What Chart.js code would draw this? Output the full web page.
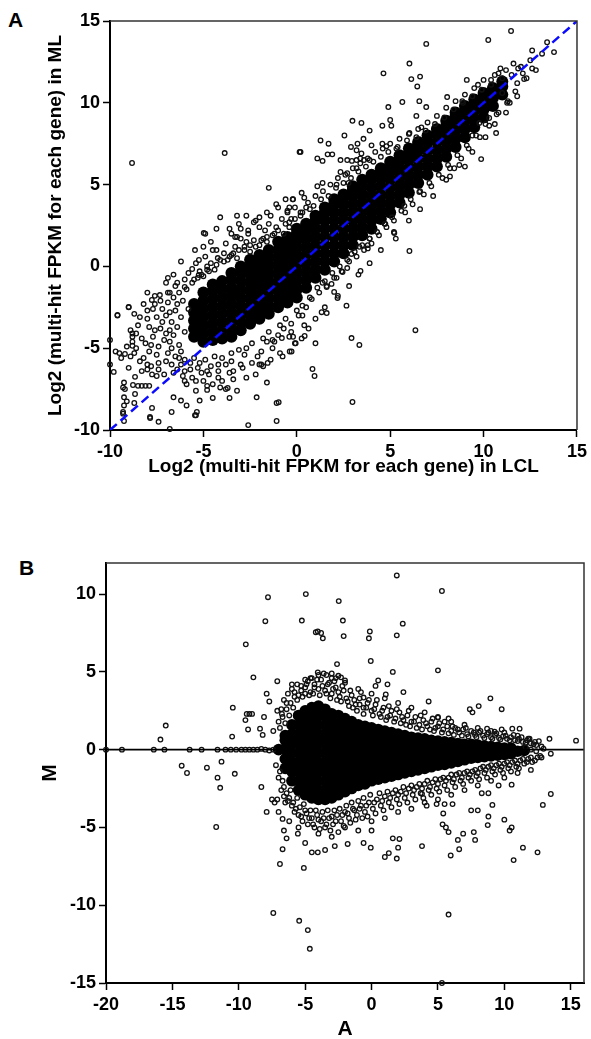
<!DOCTYPE html>
<html>
<head>
<meta charset="utf-8">
<script src="https://cdn.jsdelivr.net/npm/chart.js@4.4.1/dist/chart.umd.min.js"></script>
<style>
  html, body { margin: 0; padding: 0; background: #fff; }
  body { width: 591px; height: 1039px; position: relative; overflow: hidden; font-family: 'Liberation Sans', Arial, Helvetica, sans-serif; }
  canvas { position: absolute; left: 0; }
  .panel { position: absolute; font-weight: bold; font-size: 21px; line-height: 21px; color: #000; }
</style>
</head>
<body>
<div class="panel" style="left:8px; top:9px;">A</div>
<div class="panel" style="left:19px; top:557px;">B</div>
<canvas id="ca" width="591" height="490" style="top:0"></canvas>
<canvas id="cb" width="591" height="549" style="top:490px"></canvas>
<script>
// ---------------- Panel A data (log2 FPKM, LCL vs ML) ----------------
const aXTicksRange = [-10, 15];
const aYTicksRange = [-10, 15];
const aXTitle = 'Log2 (multi-hit FPKM for each gene) in LCL';
const aYTitle = 'Log2 (multi-hit FPKM for each gene) in ML';
const aDiagonal = [-10, 15];

// dense core of genes (columns of LCL values, each with ML values)
const aCoreX = [-5.5,-5,-4.5,-4,-3.5,-3,-2.5,-2,-1.5,-1,-0.5,0,0.5,1,1.5,2,2.5,3,3.5,4,4.5,5,5.5,6,6.5,7,7.5,8,8.5,9,9.5,10,10.5,11];
const aCoreY = [
  [-4.3,-3.8,-3.3,-2.8,-2.3],
  [-4.6,-4.1,-3.6,-3.1,-2.6,-2.1,-1.6],
  [-4.5,-4.0,-3.5,-3.0,-2.5,-2.0,-1.5,-1.1],
  [-4.4,-3.9,-3.4,-2.9,-2.4,-1.9,-1.4,-0.9],
  [-4.3,-3.8,-3.3,-2.8,-2.3,-1.8,-1.3,-0.8,-0.4],
  [-3.9,-3.4,-2.9,-2.4,-1.9,-1.4,-0.9,-0.4,0.0],
  [-3.5,-3.0,-2.5,-2.0,-1.5,-1.0,-0.5,0.0,0.4],
  [-3.2,-2.7,-2.2,-1.7,-1.2,-0.7,-0.2,0.3,0.7],
  [-2.9,-2.4,-1.9,-1.4,-0.9,-0.4,0.1,0.6,1.0],
  [-2.5,-2.0,-1.5,-1.0,-0.5,0.0,0.5,1.0,1.5],
  [-2.2,-1.7,-1.2,-0.7,-0.2,0.3,0.8,1.3,1.8],
  [-1.9,-1.4,-0.9,-0.4,0.1,0.6,1.1,1.6,2.0,2.3],
  [-1.3,-0.8,-0.3,0.2,0.7,1.2,1.7,2.2,2.6],
  [-0.7,-0.2,0.3,0.8,1.3,1.8,2.3,2.8,3.1],
  [-0.2,0.3,0.8,1.3,1.8,2.3,2.8,3.3,3.6],
  [0.3,0.8,1.3,1.8,2.3,2.8,3.3,3.8,4.1],
  [0.8,1.3,1.8,2.3,2.8,3.3,3.8,4.2,4.4],
  [1.3,1.8,2.3,2.8,3.3,3.8,4.3,4.7,4.9],
  [1.9,2.4,2.9,3.4,3.9,4.4,4.9,5.3],
  [2.3,2.8,3.3,3.8,4.3,4.8,5.3,5.6],
  [2.9,3.4,3.9,4.4,4.9,5.4,5.8,6.0],
  [3.3,3.8,4.3,4.8,5.3,5.8,6.2,6.4],
  [3.9,4.4,4.9,5.4,5.9,6.4,6.8],
  [4.5,5.0,5.5,6.0,6.5,6.9,7.2],
  [5.1,5.6,6.1,6.6,7.1,7.5,7.6],
  [5.6,6.1,6.6,7.1,7.6,8.0],
  [6.1,6.6,7.1,7.6,8.1,8.4],
  [6.7,7.2,7.7,8.2,8.6,8.9],
  [7.3,7.8,8.3,8.8,9.2,9.4],
  [7.9,8.4,8.9,9.4,9.8],
  [8.5,9.0,9.5,9.9,10.2],
  [9.1,9.6,10.1,10.4,10.6],
  [9.8,10.3,10.7,10.9],
  [10.5,11.0,11.3]
];

// genes around the edge of the dense band
const aEdge = [
  [-9.4,-5.6],[-9.0,-6.2],[-8.8,-4.3],[-8.6,-5.0],[-8.5,-3.6],[-8.3,-4.4],[-8.2,-5.6],[-8.0,-3.2],[-8.0,-6.0],[-7.8,-4.8],
  [-7.7,-2.6],[-7.6,-3.9],[-7.5,-5.4],[-7.4,-6.3],[-7.3,-2.1],[-7.2,-3.4],[-7.1,-4.5],[-7.0,-5.8],[-6.9,-1.6],[-6.8,-2.8],
  [-6.8,-3.9],[-6.7,-5.0],[-6.6,-6.5],[-6.5,-1.2],[-6.4,-2.3],[-6.3,-5.6],[-6.2,-6.0],[-6.0,-0.8],[-6.0,-6.4],[-5.8,-0.4],
  [-5.7,-5.9],[-5.6,-6.8],[-5.4,0.2],[-5.3,-6.2],[-5.2,-0.3],[-5.0,-7.0],[-4.9,0.6],[-4.7,-6.6],[-4.6,0.2],[-4.5,-7.2],
  [-4.3,1.0],[-4.2,-6.0],[-4.0,-7.0],[-3.9,0.8],[-3.8,1.4],[-3.6,-6.5],[-3.5,-5.8],[-3.3,1.2],[-3.2,-7.6],[-3.0,1.7],
  [-2.9,-6.2],[-2.8,-5.4],[-2.6,2.0],[-2.5,1.3],[-2.4,-5.9],[-2.2,-6.6],[-2.0,2.4],[-1.9,-5.2],[-1.8,1.7],[-1.6,-4.6],
  [-1.5,2.6],[-1.3,-5.0],[-1.2,2.0],[-1.0,-4.2],[-0.8,2.9],[-0.7,-3.8],[-0.5,3.3],[-0.3,-3.5],[-0.1,3.6],[0.1,-3.0],
  [0.3,3.3],[0.5,-2.5],[0.6,3.9],[0.8,-2.0],[1.0,4.3],[1.2,-1.6],[1.4,4.6],[1.6,-1.2],[1.8,5.0],[2.0,-0.7],
  [2.2,5.4],[2.4,-0.3],[2.6,5.6],[2.8,0.3],[3.0,6.0],[3.2,0.6],[3.4,6.3],[3.6,1.0],[3.8,6.6],[4.0,1.4],
  [4.2,7.0],[4.4,1.9],[4.6,7.2],[4.8,2.4],[5.0,7.5],[5.2,2.8],[5.5,7.8],[5.8,3.3],[6.0,8.1],[6.2,3.8],
  [6.5,8.4],[6.8,4.4],[7.0,8.8],[7.2,4.9],[7.5,9.2],[7.8,5.4],[8.0,9.7],[8.2,6.0],[8.5,10.1],[8.8,6.6],
  [9.0,10.5],[9.2,7.2],[9.5,10.9],[9.8,7.9],[10.0,11.4],[10.3,8.6],[10.6,11.7],[10.8,9.4],[11.2,12.0],[11.4,10.0],
  [11.8,11.2],[12.0,12.2],[12.3,11.5],[12.5,12.6],[12.8,12.0],[11.6,12.4],[10.9,12.1],
  [-5.5,-0.8],[-5.1,-0.5],[-4.8,0.0],[-4.4,-0.2],[-4.1,0.4],[-3.7,0.4],[-3.4,0.8],[-3.1,1.0],[-2.8,1.2],[-2.3,1.6],
  [-2.0,1.3],[-1.7,2.2],[-1.1,2.4],[-0.6,2.6],[-0.3,2.9],[0.2,3.1],[0.7,3.5],[-3.0,2.3],[-2.2,2.8],[-1.4,3.1],
  [-0.4,3.6],[0.4,4.2],[1.1,4.9],[-3.5,2.0],[-4.6,1.5],[-5.0,1.2],[-6.2,0.3],[-6.6,-0.5],[-7.0,-1.0],[-7.6,-1.8],
  [-8.2,-2.3],[-8.7,-2.9],[-9.6,-3.0],[-9.0,-2.5],
  [-6.0,-7.0],[-5.4,-7.6],[-4.8,-6.4],[-4.2,-6.8],[-3.8,-7.5],[-3.4,-6.9],[-2.7,-6.8],[-2.0,-6.0],[-1.4,-5.7],[-0.9,-5.3],
  [-0.2,-4.3],[0.4,-3.6],[1.0,-3.2],[1.5,-2.5],[2.2,-1.8],[2.8,-1.2],[3.3,-0.5],[3.9,0.2],[4.5,1.0],[5.3,1.7],
  [6.0,2.8],[6.6,3.5],[7.3,4.3],[8.0,5.3],[8.7,6.2],[9.4,7.0],[10.1,7.9],[10.6,8.7],[11.2,9.4]
];

// genes bordering the dense band (texture)
const aBorder = [
  [-9.1,-4.9],[-8.9,-3.9],[-8.7,-5.3],[-8.6,-4.1],[-8.4,-5.8],[-8.4,-3.1],[-8.3,-6.4],[-8.1,-4.7],[-8.0,-2.7],[-7.9,-5.2],
  [-7.9,-3.7],[-7.8,-6.1],[-7.7,-4.3],[-7.6,-2.3],[-7.5,-3.1],[-7.4,-4.9],[-7.4,-5.9],[-7.3,-3.8],[-7.2,-2.6],[-7.1,-6.6],
  [-7.0,-4.1],[-7.0,-3.0],[-6.9,-5.3],[-6.9,-2.2],[-6.8,-4.6],[-6.7,-3.4],[-6.7,-6.0],[-6.6,-1.9],[-6.6,-4.2],[-6.5,-5.5],
  [-6.5,-2.7],[-6.4,-3.7],[-6.4,-6.3],[-6.3,-1.6],[-6.3,-4.8],[-6.2,-3.1],[-6.2,-5.2],[-6.1,-2.1],[-6.1,-6.7],[-6.0,-4.0],
  [-6.0,-5.7],[-5.9,-1.4],[-5.9,-7.2],[-5.8,-2.6],[-5.7,-6.3],[-5.6,-1.0],[-5.5,-5.6],[-5.4,-7.0],[-5.3,-0.7],[-5.2,-5.9],
  [-5.1,-6.5],[-5.0,-0.6],[-4.9,-5.7],[-4.8,-7.3],[-4.7,-0.3],[-4.6,-6.1],[-4.4,-5.5],[-4.3,0.1],[-4.2,-6.4],[-4.0,-5.6],
  [-3.9,0.3],[-3.8,-6.0],[-3.6,0.6],[-3.5,-5.3],[-3.4,-6.4],[-3.2,0.5],[-3.1,-5.1],[-3.0,-6.0],[-2.8,1.0],[-2.7,-5.0],
  [-2.5,0.9],[-2.4,-4.7],[-2.2,1.2],[-2.1,-5.5],[-1.9,1.6],[-1.8,-4.4],[-1.6,1.5],[-1.5,-4.0],[-1.3,1.9],[-1.2,-4.6],
  [-1.0,2.2],[-0.9,-3.6],[-0.7,2.0],[-0.6,-3.2],[-0.4,2.7],[-0.3,-4.0],[-0.1,2.9],[0.0,-2.7],[0.2,3.3],[0.3,-2.4],
  [0.5,3.6],[0.7,-1.9],[0.9,3.7],[1.1,-1.3],[1.3,4.1],[1.5,-0.9],[1.7,4.3],[1.9,-0.4],[2.1,4.8],[2.3,0.0],
  [2.5,5.1],[2.7,0.4],[2.9,5.4],[3.1,0.9],[3.3,5.8],[3.5,1.3],[3.7,6.1],[3.9,1.7],[4.1,6.4],[4.3,2.1],
  [4.5,6.7],[4.7,2.6],[4.9,7.0],[5.1,3.0],[5.4,7.3],[5.6,3.4],[5.9,7.7],[6.1,4.1],[6.4,7.9],[6.6,4.6],
  [6.9,8.3],[7.1,5.1],[7.4,8.7],[7.6,5.6],[7.9,9.1],[8.1,6.2],[8.4,9.6],[8.6,6.8],[8.9,10.0],[9.1,7.4],
  [9.4,10.4],[9.6,8.0],[9.9,10.8],[10.1,8.7],[10.4,11.1],[10.7,9.3],[11.0,11.5],[11.3,10.1],[11.5,11.7],[11.7,10.7],
  [12.1,11.8]
];

// isolated genes
const aOutliers = [
  [-8.82,6.32],[-3.86,6.93],[-1.5,4.8],[0.15,7.0],
  [-4.9,2.0],[-4.3,2.3],[-4.1,3.0],[-3.6,2.3],[-3.2,3.1],[-3.1,2.6],[-2.7,3.1],[-2.6,2.2],[-2.3,2.7],[-2.0,3.0],
  [-1.6,3.3],[-1.1,3.8],[-1.0,3.6],[-0.6,4.1],[-0.2,4.1],[-0.5,3.4],[-0.4,2.4],[-3.3,1.8],[-1.6,1.8],
  [11.47,14.39],[10.25,13.84],[6.93,13.6],[13.4,13.7],[13.77,13.1],[13.13,13.0],[12.6,13.2],[6.03,12.4],[4.64,11.8],
  [6.13,11.45],[6.6,11.6],[6.45,11.0],[9.1,11.4],[9.7,11.1],[10.4,11.4],[10.8,11.8],[11.85,12.1],[12.17,11.45],[12.6,12.1],
  [11.8,10.4],[11.26,10.0],[8.05,10.35],[6.56,10.1],[5.65,10.05],[4.9,9.74],[6.93,9.74],[8.86,10.1],[6.4,9.2],[5.0,8.95],
  [4.58,8.6],[2.98,8.9],[3.46,8.77],[3.9,8.3],[5.06,8.6],[6.03,8.15],[6.67,8.5],[2.55,8.0],[1.27,7.7],[1.7,7.5],
  [0.2,7.0],[3.57,7.8],[4.0,7.4],[2.9,7.3],[3.25,7.5],[3.2,7.1],[4.58,7.5],[4.8,7.35],[5.33,7.2],[1.1,6.6],
  [1.38,6.45],[1.65,6.85],[1.9,6.85],[2.34,6.5],[2.7,6.5],[2.95,6.45],[3.2,6.5],[3.4,6.6],[3.6,6.5],[3.9,6.5],
  [2.34,5.77],[2.7,5.7],[3.2,6.0],[3.46,6.9],[0.26,4.5],[1.38,5.1],[2.13,5.0],[2.77,5.1],[-0.22,4.1],
  [9.87,6.56],[10.67,8.15],[9.4,8.0],[9.0,6.1],[8.43,6.0],[8.2,5.5],[6.56,4.55],[5.76,3.7],[5.2,2.1],[3.9,1.7],
  [4.74,2.6],[9.77,8.77],[10.3,9.07],[11.0,10.6],
  [5.22,2.04],[6.03,0.94],[3.41,-0.28],[3.8,1.3],[3.8,1.1],[3.35,1.2],[2.93,0.76],[2.45,-0.34],[2.7,-0.1],[2.13,-0.7],
  [2.0,-1.56],[2.18,-1.93],[2.66,-2.4],[1.86,-1.07],[1.6,-1.26],[1.38,-1.0],[1.33,-2.8],[1.6,-2.85],[0.3,-3.0],[0.63,-3.8],
  [0.42,-4.25],[0.26,-4.4],[-0.06,-4.7],[1.0,-4.7],[-0.28,-5.2],[-0.4,-4.3],[2.93,-4.38],[3.35,-4.8],[6.35,-3.9],[0.84,-6.27],
  [0.95,-6.7],[2.98,-8.29],
  [-9.6,-2.97],[-9.0,-2.48],[-10,-4.5],[-10,-6.0],[-9.8,-6.45],[-9.7,-5.2],[-9.5,-5.3],[-9.2,-5.35],[-8.9,-5.5],[-8.8,-4.85],
  [-8.8,-4.6],[-8.8,-4.1],[-9.25,-7.1],[-9.3,-7.4],[-9.2,-7.5],[-9.25,-8.0],[-9.1,-8.25],[-9.25,-8.5],[-9.3,-8.9],[-9.3,-9.0],
  [-9.25,-9.45],[-8.66,-6.75],[-8.77,-7.25],[-8.66,-7.8],[-8.7,-8.35],[-8.5,-7.3],[-8.3,-7.3],[-8.1,-7.3],[-7.9,-7.3],[-8.0,-6.3],
  [-7.75,-6.6],[-7.5,-6.7],[-7.75,-8.65],[-7.85,-9.27],[-7.4,-9.5],[-6.8,-9.94],[-6.6,-8.0],[-6.2,-8.2],[-5.9,-8.5],[-5.45,-9.1],
  [-5.35,-8.9],[-4.98,2.04],[-5.45,1.0],[-5.24,0.39],[-4.5,1.0],[-4.23,0.51],[-3.5,0.7],[-3.2,1.8],[-2.7,1.5],[-5.6,-0.16],
  [-5.25,-0.53],[-4.8,-0.2],[-6.9,-0.7],[-6.4,-1.0],[-8.0,-1.6],[-7.76,-2.05],[-7.33,-1.75],[-6.0,-1.26],[-6.8,-1.6],[-1.6,-7.1],
  [-1.08,-8.35],[-0.97,-8.3],[-2.6,-9.7],[-1.08,-9.45],[-2.15,-8.0],[-3.6,-8.04],[-3.7,-7.43],[-4.5,-8.04],[-4.8,-7.55],[-5.2,-8.2],
  [-4.1,-7.4],[-1.9,-6.0],[-1.8,-6.1],[-1.56,-5.9],[-0.76,-5.5],[-0.38,-5.2],[-0.1,-4.7],[-1.3,-4.5],[-0.8,-4.38],[-7.86,-9.2],
  [-6.7,-8.9],[-5.4,-9.1]
];

// ---------------- Panel B data (MA plot) ----------------
const bXRange = [-20, 16];
const bYRange = [-15, 12];
const bXTitle = 'A';
const bYTitle = 'M';
const bZeroLine = [-20, 16];

const bCoreX = [-7,-6.5,-6,-5.5,-5,-4.5,-4,-3.5,-3,-2.5,-2,-1.5,-1,-0.5,0,0.5,1,1.5,2,2.5,3,3.5,4,4.5,5,5.5,6,6.5,7,7.5,8,8.5,9,9.5,10,10.5,11,11.5];
const bCoreY = [
  [0.0],
  [-1.2,-0.6,0.0,0.6,0.9],
  [-2.0,-1.4,-0.8,-0.2,0.4,1.0,1.6],
  [-2.6,-2.0,-1.4,-0.8,-0.2,0.4,1.0,1.6,2.2],
  [-2.9,-2.3,-1.7,-1.1,-0.5,0.1,0.7,1.3,1.9,2.5],
  [-3.1,-2.5,-1.9,-1.3,-0.7,-0.1,0.5,1.1,1.7,2.3,2.7],
  [-3.2,-2.6,-2.0,-1.4,-0.8,-0.2,0.4,1.0,1.6,2.2,2.8],
  [-3.2,-2.6,-2.0,-1.4,-0.8,-0.2,0.4,1.0,1.6,2.2,2.6],
  [-3.1,-2.5,-1.9,-1.3,-0.7,-0.1,0.5,1.1,1.7,2.3],
  [-2.9,-2.3,-1.7,-1.1,-0.5,0.1,0.7,1.3,1.9,2.2],
  [-2.7,-2.1,-1.5,-0.9,-0.3,0.3,0.9,1.5,2.0],
  [-2.5,-1.9,-1.3,-0.7,-0.1,0.5,1.1,1.6,1.8],
  [-2.3,-1.7,-1.1,-0.5,0.1,0.7,1.2,1.6],
  [-2.2,-1.6,-1.0,-0.4,0.2,0.8,1.2,1.5],
  [-2.0,-1.4,-0.8,-0.2,0.4,0.9,1.4],
  [-1.9,-1.3,-0.7,-0.1,0.5,1.0,1.3],
  [-1.8,-1.2,-0.6,0.0,0.6,1.0,1.2],
  [-1.7,-1.1,-0.5,0.1,0.6,1.1],
  [-1.6,-1.0,-0.4,0.2,0.7,1.0],
  [-1.5,-0.9,-0.3,0.3,0.7,0.9],
  [-1.4,-0.8,-0.2,0.3,0.8],
  [-1.3,-0.7,-0.1,0.4,0.75],
  [-1.2,-0.6,0.0,0.4,0.7],
  [-1.1,-0.5,0.0,0.45,0.6],
  [-1.0,-0.4,0.1,0.55],
  [-0.95,-0.4,0.15,0.5],
  [-0.85,-0.3,0.2,0.45],
  [-0.75,-0.2,0.25,0.4],
  [-0.65,-0.1,0.35],
  [-0.55,0.0,0.35],
  [-0.5,0.0,0.3],
  [-0.45,0.0,0.25],
  [-0.4,0.05,0.2],
  [-0.35,0.15],
  [-0.3,0.1],
  [-0.25,0.1],
  [-0.1],
  [-0.05]
];

const bEdge = [
  [-11.0,0],[-10.6,0],[-10.2,0],[-9.8,0],[-9.5,0],[-9.2,0],[-8.9,0],[-8.6,0],[-8.3,0.05],[-8.0,0],[-7.7,-0.05],[-7.4,0],
  [-7.4,1.2],[-7.0,1.8],[-6.8,2.6],[-6.6,3.2],[-6.3,3.6],[-6.0,3.9],[-5.8,3.4],[-5.6,4.2],[-5.3,3.8],[-5.0,4.0],
  [-4.8,4.4],[-4.6,3.7],[-4.3,4.2],[-4.0,3.9],[-3.8,4.5],[-3.5,3.8],[-3.2,4.3],[-3.0,3.6],[-2.7,4.0],[-2.4,3.4],
  [-2.1,3.8],[-1.8,3.1],[-1.5,3.5],[-1.2,2.9],[-0.9,3.3],[-0.6,2.7],[-0.3,3.0],[0.0,2.5],[0.3,2.9],[0.6,2.3],
  [0.9,2.7],[1.2,2.1],[1.5,2.5],[1.8,2.0],[2.1,2.4],[2.4,1.9],[2.7,2.2],[3.0,1.8],[3.3,2.1],[3.6,1.6],
  [3.9,1.9],[4.2,1.5],[4.5,1.8],[4.8,1.4],[5.1,1.7],[5.4,1.3],[5.7,1.5],[6.0,1.2],[6.3,1.4],[6.6,1.1],
  [6.9,1.3],[7.2,1.0],[7.5,1.2],[7.8,0.95],[8.1,1.1],[8.4,0.9],[8.7,1.0],[9.0,0.8],[9.3,0.95],[9.6,0.75],
  [9.9,0.85],[10.2,0.7],[10.5,0.8],[10.8,0.6],[11.1,0.7],[11.4,0.5],[11.7,0.6],[12.0,0.4],[12.4,0.3],[12.8,0.2],
  [11.0,0.9],[10.0,1.1],[9.0,1.2],[8.0,1.4],[7.0,1.6],[6.0,1.8],[5.0,2.1],[4.0,2.4],[3.0,2.7],[2.0,3.0],
  [1.0,3.3],[0.0,3.6],[-1.0,3.9],[-2.0,4.3],[-3.0,4.6],[-4.0,4.8],[-5.0,4.5],[-6.0,4.2],
  [-7.2,-1.0],[-7.0,-1.8],[-6.8,-2.6],[-6.6,-3.0],[-6.3,-3.3],[-6.0,-3.6],[-5.8,-4.0],[-5.5,-4.2],[-5.2,-4.6],[-5.0,-3.9],
  [-4.7,-4.4],[-4.4,-4.8],[-4.1,-4.2],[-3.8,-4.6],[-3.5,-5.0],[-3.2,-4.4],[-2.9,-4.8],[-2.6,-4.2],[-2.3,-4.6],[-2.0,-4.0],
  [-1.7,-4.4],[-1.4,-3.8],[-1.1,-4.2],[-0.8,-3.6],[-0.5,-4.0],[-0.2,-3.4],[0.1,-3.8],[0.4,-3.2],[0.7,-3.6],[1.0,-3.0],
  [1.3,-3.4],[1.6,-2.8],[1.9,-3.2],[2.2,-2.7],[2.5,-3.1],[2.8,-2.5],[3.1,-2.9],[3.4,-2.4],[3.7,-2.8],[4.0,-2.2],
  [4.3,-2.6],[4.6,-2.1],[4.9,-2.5],[5.2,-1.9],[5.5,-2.3],[5.8,-1.8],[6.1,-2.1],[6.4,-1.6],[6.7,-2.0],[7.0,-1.5],
  [7.3,-1.8],[7.6,-1.4],[7.9,-1.7],[8.2,-1.2],[8.5,-1.5],[8.8,-1.1],[9.1,-1.4],[9.4,-1.0],[9.7,-1.3],[10.0,-0.9],
  [10.3,-1.2],[10.6,-0.8],[10.9,-1.1],[11.2,-0.7],[11.5,-0.9],[11.8,-0.6],[12.1,-0.8],[12.5,-0.5],
  [-4.0,-5.4],[-3.0,-5.6],[-2.0,-5.0],[-1.0,-5.2],[0.0,-4.6],[1.0,-4.4],[2.0,-4.0],[3.0,-3.8],[4.0,-3.4],[5.0,-3.2],
  [6.0,-2.9],[7.0,-2.6],[8.0,-2.3],[9.0,-2.0],[10.0,-1.8],[11.0,-1.5],[12.0,-1.3],[-5.5,-5.0],[-6.2,-4.6]
];

const bBorder = [
  [-6.9,1.4],[-6.7,2.1],[-6.5,1.7],[-6.4,2.6],[-6.2,2.2],[-6.1,3.0],[-5.9,2.7],[-5.8,3.7],[-5.6,3.2],[-5.5,3.5],
  [-5.3,4.1],[-5.2,3.4],[-5.0,3.6],[-4.9,4.2],[-4.7,3.5],[-4.6,4.6],[-4.4,3.6],[-4.3,4.0],[-4.1,4.5],[-3.9,3.5],
  [-3.7,4.1],[-3.6,4.9],[-3.4,3.6],[-3.3,4.2],[-3.1,3.3],[-2.9,3.9],[-2.8,4.4],[-2.6,3.2],[-2.5,3.7],[-2.3,3.1],
  [-2.2,4.1],[-1.9,3.3],[-1.7,2.8],[-1.6,3.8],[-1.4,2.7],[-1.3,3.2],[-1.1,2.5],[-0.9,2.9],[-0.8,3.7],[-0.6,2.3],
  [-0.4,2.7],[-0.2,3.2],[0.1,2.2],[0.2,2.6],[0.4,3.2],[0.7,2.1],[0.8,2.5],[1.1,1.9],[1.3,2.8],[1.4,2.2],
  [1.7,1.8],[1.9,2.6],[2.2,1.7],[2.3,2.1],[2.6,1.6],[2.8,2.5],[2.9,1.5],[3.2,1.8],[3.4,1.4],[3.7,2.2],
  [3.8,1.3],[4.1,1.7],[4.4,1.3],[4.6,2.0],[4.7,1.2],[5.0,1.5],[5.3,1.1],[5.5,1.8],[5.8,1.05],[6.1,1.5],
  [6.2,0.95],[6.5,1.3],[6.8,0.9],[7.1,1.4],[7.3,0.85],[7.7,1.1],[7.9,0.8],[8.2,1.2],[8.5,0.75],[8.8,1.1],
  [9.1,0.7],[9.4,1.05],[9.7,0.65],[10.1,0.9],[10.4,0.6],[10.7,0.95],[11.0,0.55],[11.3,0.8],[11.6,0.45],[11.9,0.7],
  [12.2,0.35],[12.6,0.55],[12.0,0.0],[11.6,0.15],[12.4,-0.1],
  [-6.9,-1.4],[-6.7,-2.0],[-6.6,-2.4],[-6.4,-2.8],[-6.2,-3.1],[-6.1,-2.6],[-5.9,-3.4],[-5.7,-3.8],[-5.6,-3.1],[-5.4,-3.7],
  [-5.3,-4.3],[-5.1,-3.5],[-4.9,-4.1],[-4.8,-4.8],[-4.6,-3.9],[-4.5,-4.4],[-4.3,-5.0],[-4.2,-3.9],[-4.0,-4.5],[-3.9,-5.1],
  [-3.7,-4.0],[-3.6,-4.4],[-3.4,-4.8],[-3.3,-3.9],[-3.1,-5.2],[-3.0,-4.3],[-2.8,-3.9],[-2.7,-4.6],[-2.5,-5.3],[-2.4,-3.8],
  [-2.2,-4.2],[-2.1,-4.9],[-1.9,-3.6],[-1.8,-4.1],[-1.6,-4.7],[-1.5,-3.4],[-1.3,-3.9],[-1.2,-4.5],[-1.0,-3.3],[-0.9,-3.8],
  [-0.7,-4.4],[-0.6,-3.1],[-0.4,-3.6],[-0.3,-4.3],[-0.1,-2.9],[0.2,-3.4],[0.3,-4.1],[0.6,-2.8],[0.8,-3.3],[0.9,-3.9],
  [1.2,-2.7],[1.4,-3.1],[1.5,-3.7],[1.8,-2.6],[2.0,-2.9],[2.1,-3.5],[2.4,-2.4],[2.6,-2.8],[2.7,-3.4],[3.0,-2.3],
  [3.2,-2.6],[3.3,-3.2],[3.6,-2.2],[3.8,-2.5],[3.9,-3.1],[4.2,-2.0],[4.4,-2.4],[4.5,-2.9],[4.8,-1.9],[5.0,-2.2],
  [5.1,-2.7],[5.4,-1.8],[5.6,-2.0],[5.7,-2.6],[6.0,-1.6],[6.2,-1.9],[6.3,-2.4],[6.6,-1.5],[6.8,-1.8],[6.9,-2.2],
  [7.2,-1.4],[7.4,-1.6],[7.5,-2.0],[7.8,-1.3],[8.0,-1.5],[8.1,-1.9],[8.4,-1.1],[8.6,-1.3],[8.7,-1.8],[9.0,-1.0],
  [9.2,-1.2],[9.3,-1.6],[9.6,-0.9],[9.8,-1.1],[9.9,-1.5],[10.2,-0.8],[10.4,-1.0],[10.5,-1.4],[10.8,-0.7],[11.0,-0.9],
  [11.1,-1.2],[11.4,-0.6],[11.7,-0.8],[12.0,-0.5],[12.3,-0.7],[12.7,-0.4]
];

const bOutliers = [
  [-20,0],[-18.8,0],[-16.4,0],[-15.6,0],[-13.7,0],[-12.8,0],[-11.6,0],
  [-15.5,1.55],[-15.9,0.65],[-7.8,9.8],[-8.0,8.26],[-9.47,6.77],[-8.9,4.65],[-7.1,4.4],[-7.9,3.6],[-7.7,3.1],[-10.45,2.7],
  [-9.4,2.3],[-9.2,2.3],[-9.0,2.3],[-9.5,1.9],[-8.1,2.1],[-9.3,1.3],[-8.4,1.35],[-10.5,0.84],[-8.2,0.95],[-7.1,2.5],
  [-6.75,2.3],[-6.4,3.0],
  [-14.3,-1.03],[-12.4,-1.16],[-11.3,-0.77],[-13.9,-1.5],[-11.6,-1.8],[-11.4,-2.45],[-10.3,-1.55],[-11.7,-4.97],[-8.3,-2.4],
  [-7.9,-4.0],[-7.0,-4.0],[-6.7,-4.45],[-6.6,-5.2],[-6.4,-5.7],[-6.7,-6.4],[-6.9,-7.35],[-7.4,-10.5],[-5.45,-11.0],
  [-4.8,-11.6],[-4.65,-12.8],[-5.1,-7.6],[5.8,-10.6],[5.3,-15.0],[-7.5,-3.2],[-7.1,-3.2],[-7.3,-3.4],[-6.5,-3.4],
  [-4.5,-6.6],[-4.05,-6.6],[-3.5,-6.45],[-5.0,-6.0],[-5.55,-5.4],[-2.77,-6.2],[-1.8,-6.06],[-0.6,-6.0],[-0.06,-6.3],
  [0.0,-5.2],[1.0,-6.9],[1.3,-6.65],[2.0,-6.3],[1.9,-7.0],[2.1,-5.74],[1.6,-5.7],[3.8,-6.2],[5.96,-6.8],[6.6,-6.4],
  [6.5,-5.8],[6.9,-5.4],[7.7,-5.3],[7.8,-5.8],[8.75,-4.85],[10.0,-4.5],[10.4,-5.2],[10.55,-5.0],[10.7,-7.1],[11.4,-6.3],
  [12.5,-6.6],[12.9,-3.55],[13.5,-2.85],[9.1,-3.55],[8.8,-4.3],[9.57,-2.3],[8.8,-2.8],[10.55,-2.25],[8.3,-2.8],[7.5,-3.9],
  [8.0,-3.9],[5.4,-4.1],[5.5,-3.5],[3.8,-2.84],[4.15,-3.6],[5.35,-4.8],[5.6,-5.0],[5.8,-5.3],[4.9,-3.5],[6.1,-3.5],
  [1.9,11.2],[5.3,10.2],[-4.95,10.0],[-2.47,9.55],[-5.25,8.3],[-2.16,8.3],[2.35,8.1],[-4.2,7.55],[-4.05,7.6],[-3.8,7.5],
  [-3.67,7.16],[-2.1,7.3],[-0.13,7.6],[-0.2,7.16],[1.9,7.35],[-2.6,5.5],[-0.06,5.7],[5.0,5.1],[-4.05,4.97],[1.6,5.0],
  [-4.5,4.6],[-3.4,4.8],[-3.0,4.9],[-2.7,4.6],[-2.5,4.75],[-2.3,4.65],[-2.0,4.45],[0.5,4.45],[0.3,4.1],[1.2,4.2],
  [2.4,3.7],[1.07,3.55],[4.3,3.1],[-0.6,3.35],[7.4,2.6],[7.6,2.4],[8.07,2.8],[8.95,3.3],[9.8,2.6],[5.0,2.06],
  [5.8,2.0],[8.7,1.35],[9.27,1.16],[9.8,1.3],[10.6,1.35],[11.15,1.35],[13.4,0.7],[15.4,0.58],[12.3,0.5],[11.8,0.7],
  [12.95,0.06],[12.8,-0.5],[13.5,-0.26]
];

// ---------------- helpers ----------------
const FONT = "'Liberation Sans', Arial, Helvetica, sans-serif";
Chart.defaults.font.family = FONT;
Chart.defaults.color = '#000';

const pairs = arr => arr.map(p => ({x: p[0], y: p[1]}));
const columns = (xs, ys) => xs.flatMap((x, i) => ys[i].map(y => ({x, y})));

const boxPlugin = {
  id: 'box',
  afterDraw(chart) {
    const {ctx, chartArea: {left, top, right, bottom}} = chart;
    ctx.save();
    ctx.strokeStyle = '#333';
    ctx.lineWidth = 1.5;
    ctx.beginPath();
    ctx.moveTo(left, top);
    ctx.lineTo(right, top);
    ctx.lineTo(right, bottom);
    ctx.stroke();
    ctx.restore();
  }
};

function axis(min, max, title, titleSize, titlePad, fitSize, horizontal) {
  return {
    type: 'linear',
    position: horizontal ? 'bottom' : 'left',
    min, max,
    border: {display: true, color: '#000', width: 2},
    grid: {display: true, drawOnChartArea: false, drawTicks: true, tickLength: 7, tickColor: '#000', tickWidth: 1.5},
    ticks: {stepSize: 5, includeBounds: false, color: '#000', padding: horizontal ? 4 : 3, maxRotation: 0,
            font: {size: 18, weight: 'bold', family: FONT}},
    title: {display: true, text: title, color: '#000', font: {size: titleSize, weight: 'bold', family: FONT},
            padding: titlePad},
    afterFit(scale) { if (horizontal) scale.height = fitSize; else scale.width = fitSize; }
  };
}

const openPoint = {type: 'scatter', pointRadius: 2.3, pointHoverRadius: 2.3, pointBorderWidth: 1.3,
  borderColor: '#111', pointBorderColor: '#111', backgroundColor: 'rgba(255,255,255,0)', pointBackgroundColor: 'rgba(255,255,255,0)', clip: false};

// ---------------- Chart A ----------------
new Chart(document.getElementById('ca'), {
  type: 'scatter',
  data: {
    datasets: [
      {type: 'line', data: aDiagonal.map(v => ({x: v, y: v})), borderColor: '#0a0aff', borderWidth: 2.5,
       borderDash: [9, 5], pointRadius: 0, fill: false, tension: 0},
      Object.assign({data: pairs(aOutliers)}, openPoint),
      Object.assign({data: pairs(aEdge)}, openPoint),
      Object.assign({data: pairs(aBorder)}, openPoint),
      {type: 'scatter', data: columns(aCoreX, aCoreY), pointRadius: 6, pointHoverRadius: 6, pointBorderWidth: 0,
       pointBackgroundColor: '#000', backgroundColor: '#000', borderColor: '#000'}
    ]
  },
  options: {
    responsive: false, animation: false, devicePixelRatio: 1,
    events: [],
    layout: {padding: {left: 0, right: 13, top: 21, bottom: 0}},
    plugins: {legend: {display: false}, tooltip: {enabled: false}},
    scales: {
      x: axis(aXTicksRange[0], aXTicksRange[1], aXTitle, 19, {top: 0, bottom: 12}, 60, true),
      y: axis(aYTicksRange[0], aYTicksRange[1], aYTitle, 19, {top: 44, bottom: 0}, 110, false)
    }
  },
  plugins: [boxPlugin]
});

// ---------------- Chart B ----------------
new Chart(document.getElementById('cb'), {
  type: 'scatter',
  data: {
    datasets: [
      {type: 'line', data: bZeroLine.map(v => ({x: v, y: 0})), borderColor: '#000', borderWidth: 1.6,
       pointRadius: 0, fill: false, tension: 0},
      Object.assign({data: pairs(bOutliers)}, openPoint),
      Object.assign({data: pairs(bEdge)}, openPoint),
      Object.assign({data: pairs(bBorder)}, openPoint),
      {type: 'scatter', data: columns(bCoreX, bCoreY), pointRadius: 5.8, pointHoverRadius: 5.8, pointBorderWidth: 0,
       pointBackgroundColor: '#000', backgroundColor: '#000', borderColor: '#000'}
    ]
  },
  options: {
    responsive: false, animation: false, devicePixelRatio: 1,
    events: [],
    layout: {padding: {left: 0, right: 7, top: 73, bottom: 0}},
    plugins: {legend: {display: false}, tooltip: {enabled: false}},
    scales: {
      x: axis(bXRange[0], bXRange[1], bXTitle, 21, {top: 0, bottom: -3}, 56, true),
      y: axis(bYRange[0], bYRange[1], bYTitle, 21, {top: 38, bottom: 0}, 106, false)
    }
  },
  plugins: [boxPlugin]
});
</script>
</body>
</html>
